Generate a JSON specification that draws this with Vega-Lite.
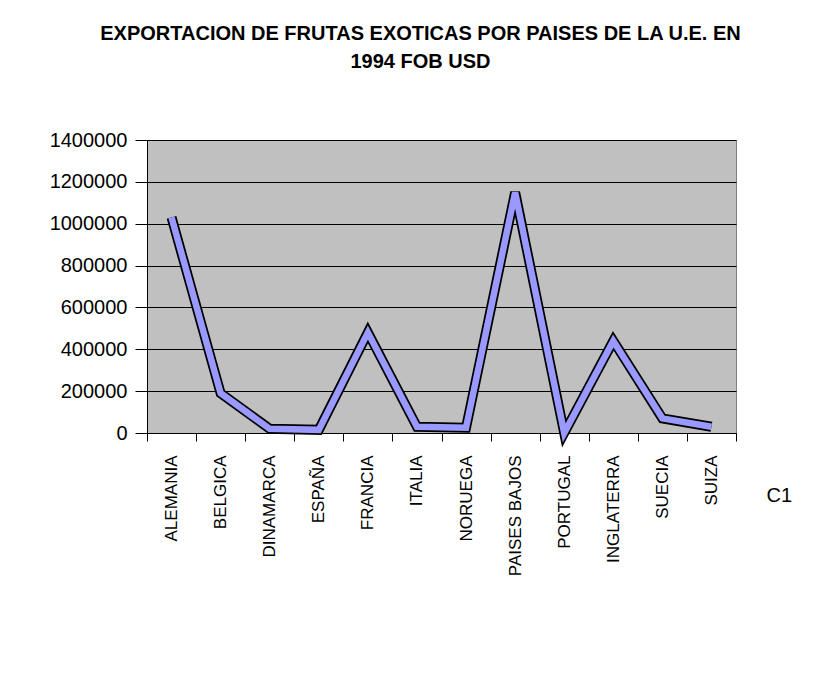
{
  "$schema": "https://vega.github.io/schema/vega-lite/v6.json",
  "autosize": "none",
  "width": 589,
  "height": 293,
  "padding": {"left": 147, "top": 140, "right": 95, "bottom": 256},
  "background": "white",
  "title": {
    "text": ["EXPORTACION DE FRUTAS EXOTICAS POR PAISES DE LA U.E. EN", "1994 FOB USD"],
    "font": "Liberation Sans",
    "fontSize": 20,
    "fontWeight": "bold",
    "color": "black",
    "anchor": "middle",
    "lineHeight": 28,
    "offset": 58,
    "dx": -21
  },
  "datasets": {
    "exportacion": [
      {"pais": "ALEMANIA", "fob": 1030000},
      {"pais": "BELGICA", "fob": 190000},
      {"pais": "DINAMARCA", "fob": 20000},
      {"pais": "ESPAÑA", "fob": 15000},
      {"pais": "FRANCIA", "fob": 480000},
      {"pais": "ITALIA", "fob": 30000},
      {"pais": "NORUEGA", "fob": 25000},
      {"pais": "PAISES BAJOS", "fob": 1150000},
      {"pais": "PORTUGAL", "fob": 0},
      {"pais": "INGLATERRA", "fob": 440000},
      {"pais": "SUECIA", "fob": 70000},
      {"pais": "SUIZA", "fob": 30000}
    ],
    "serie": [
      {"pais": "SUIZA", "fob": -300000, "serie": "C1"}
    ]
  },
  "data": {"name": "exportacion"},
  "encoding": {
    "x": {
      "field": "pais",
      "type": "nominal",
      "sort": null,
      "scale": {"paddingInner": 0, "paddingOuter": 0},
      "axis": {
        "title": null,
        "labelAngle": -90,
        "labelFont": "Liberation Sans",
        "labelFontSize": 17,
        "labelColor": "black",
        "tickBand": "extent",
        "tickSize": 8,
        "tickColor": "black",
        "domainColor": "black",
        "labelPadding": 14
      }
    },
    "y": {
      "field": "fob",
      "type": "quantitative",
      "scale": {"domain": [0, 1400000], "nice": false},
      "axis": {
        "title": null,
        "values": [0, 200000, 400000, 600000, 800000, 1000000, 1200000, 1400000],
        "format": "d",
        "labelFont": "Liberation Sans",
        "labelFontSize": 20,
        "labelColor": "black",
        "tickSize": 12,
        "labelPadding": 8,
        "tickColor": "black",
        "domainColor": "black",
        "gridColor": "black",
        "gridOpacity": 1,
        "grid": true
      }
    }
  },
  "layer": [
    {
      "mark": {"type": "line", "color": "black", "strokeWidth": 10, "strokeJoin": "miter", "strokeMiterLimit": 3, "strokeCap": "butt"}
    },
    {
      "mark": {"type": "line", "color": "#9999FF", "strokeWidth": 6.5, "strokeJoin": "miter", "strokeMiterLimit": 3, "strokeCap": "butt"}
    },
    {
      "data": {"name": "serie"},
      "mark": {"type": "text", "font": "Liberation Sans", "fontSize": 20, "fontWeight": "normal", "color": "black", "align": "left", "dx": 55, "clip": false},
      "encoding": {
        "text": {"field": "serie"}
      }
    }
  ],
  "config": {
    "view": {"fill": "#C0C0C0", "stroke": "#808080", "strokeWidth": 1}
  }
}
